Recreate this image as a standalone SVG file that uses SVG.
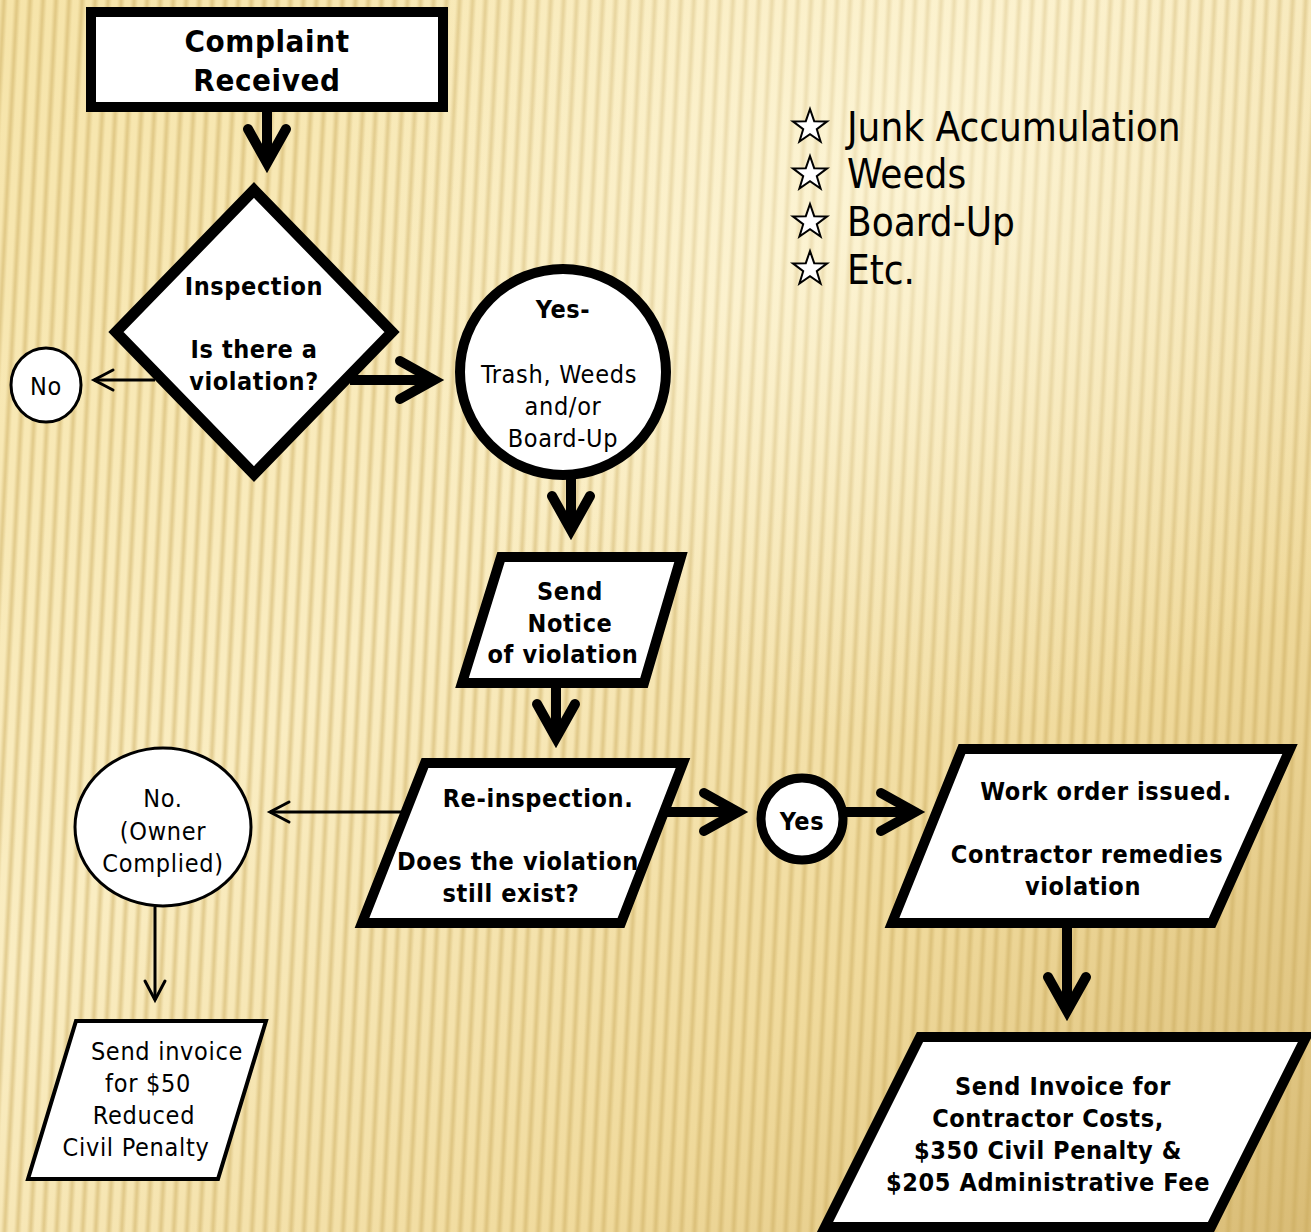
<svg xmlns="http://www.w3.org/2000/svg" width="1311" height="1232" viewBox="0 0 1311 1232">
<defs>
<style>
.box{fill:#fff;stroke:#000;stroke-linejoin:miter}
.thk{stroke-width:10}
.thn{stroke-width:3}
.t{font-family:'DejaVu Sans Condensed','DejaVu Sans',sans-serif;font-stretch:condensed;fill:#000;text-anchor:middle}
.b{font-weight:bold;font-size:25px;letter-spacing:0.6px}
.r{font-size:25px;letter-spacing:0.7px}
.lst{font-family:'DejaVu Sans Condensed','DejaVu Sans',sans-serif;font-stretch:condensed;font-size:40px;fill:#000}
.conT{fill:none;stroke:#000;stroke-width:10}
.conN{fill:none;stroke:#000;stroke-width:3}
.star{fill:#fff;stroke:#000;stroke-width:2;stroke-linejoin:miter}
</style>
<linearGradient id="bg" x1="0" y1="0" x2="1" y2="1">
<stop offset="0" stop-color="#f6e4a9"/>
<stop offset="0.4" stop-color="#faedc2"/>
<stop offset="0.72" stop-color="#f0da9c"/>
<stop offset="1" stop-color="#d9bc76"/>
</linearGradient>
<radialGradient id="glow" cx="0.7" cy="0.15" r="0.45">
<stop offset="0" stop-color="#fffbe6" stop-opacity="0.55"/>
<stop offset="1" stop-color="#fffbe6" stop-opacity="0"/>
</radialGradient>
<linearGradient id="stg" x1="0" y1="0" x2="1" y2="0">
<stop offset="0" stop-color="#c9a95a" stop-opacity="0"/>
<stop offset="0.5" stop-color="#c9a95a" stop-opacity="0.5"/>
<stop offset="1" stop-color="#c9a95a" stop-opacity="0"/>
</linearGradient>
<pattern id="stripes" width="13" height="40" patternUnits="userSpaceOnUse" patternTransform="rotate(3)">
<rect x="0" y="0" width="8" height="40" fill="url(#stg)"/>
</pattern>
<marker id="hT" markerUnits="userSpaceOnUse" orient="auto" refX="0" refY="0" overflow="visible">
<path d="M-34,-19 L0,0 L-34,19" fill="none" stroke="#000" stroke-width="10" stroke-linecap="round" stroke-linejoin="miter"/>
</marker>
<marker id="hN" markerUnits="userSpaceOnUse" orient="auto" refX="0" refY="0" overflow="visible">
<path d="M-19,-10 L0,0 L-19,10" fill="none" stroke="#000" stroke-width="3" stroke-linecap="round" stroke-linejoin="miter"/>
</marker>
<polygon id="st" class="star" points="0,-18 4.2,-5.8 17.1,-5.6 6.8,2.2 10.6,14.6 0,7.2 -10.6,14.6 -6.8,2.2 -17.1,-5.6 -4.2,-5.8"/>
</defs>

<rect width="1311" height="1232" fill="url(#bg)"/>
<rect width="1311" height="1232" fill="url(#stripes)"/>
<rect width="1311" height="1232" fill="url(#glow)"/>

<g id="connectors">
<path class="conT" d="M267,112 L267,163" marker-end="url(#hT)"/>
<path class="conT" d="M350,380 L434,380" marker-end="url(#hT)"/>
<path class="conT" d="M571,478 L571,530" marker-end="url(#hT)"/>
<path class="conT" d="M556,688 L556,738" marker-end="url(#hT)"/>
<path class="conT" d="M665,812 L738,812" marker-end="url(#hT)"/>
<path class="conT" d="M846,812 L915,812" marker-end="url(#hT)"/>
<path class="conT" d="M1067,928 L1067,1011" marker-end="url(#hT)"/>
<path class="conN" d="M155,380 L94,380" marker-end="url(#hN)"/>
<path class="conN" d="M405,812 L270,812" marker-end="url(#hN)"/>
<path class="conN" d="M155,907 L155,1000" marker-end="url(#hN)"/>
</g>

<g id="complaint">
<rect class="box thk" x="91" y="12" width="352" height="95"/>
<text class="t b" x="267" y="52" style="font-size:31px">Complaint</text>
<text class="t b" x="267" y="91" style="font-size:31px">Received</text>
</g>

<g id="inspection">
<polygon class="box" stroke-width="11" points="254,190 392,332 254,474 116,332"/>
<text class="t b" x="254" y="295">Inspection</text>
<text class="t b" x="254" y="358">Is there a</text>
<text class="t b" x="254" y="390">violation?</text>
</g>

<g id="no1">
<ellipse class="box thn" cx="46" cy="385" rx="35" ry="37"/>
<text class="t r" x="46" y="395">No</text>
</g>

<g id="yes1">
<circle class="box thk" cx="563" cy="372" r="103"/>
<text class="t b" x="563" y="318">Yes-</text>
<text class="t r" x="559" y="383">Trash, Weeds</text>
<text class="t r" x="563" y="415">and/or</text>
<text class="t r" x="563" y="447">Board-Up</text>
</g>

<g id="notice">
<polygon class="box thk" points="501,557 681,557 644,683 462,683"/>
<text class="t b" x="570" y="600">Send</text>
<text class="t b" x="570" y="632">Notice</text>
<text class="t b" x="563" y="663">of violation</text>
</g>

<g id="reinspection">
<polygon class="box thk" points="425,763 683,763 621,923 362,923"/>
<text class="t b" x="538" y="807">Re-inspection.</text>
<text class="t b" x="518" y="870">Does the violation</text>
<text class="t b" x="511" y="902">still exist?</text>
</g>

<g id="no2">
<ellipse class="box thn" cx="163" cy="827" rx="88" ry="79"/>
<text class="t r" x="163" y="807">No.</text>
<text class="t r" x="163" y="840">(Owner</text>
<text class="t r" x="163" y="872">Complied)</text>
</g>

<g id="invoice50">
<polygon class="box" stroke-width="4" points="76,1021 266,1021 218,1179 28,1179"/>
<text class="t r" x="167" y="1060">Send invoice</text>
<text class="t r" x="148" y="1092">for $50</text>
<text class="t r" x="144" y="1124">Reduced</text>
<text class="t r" x="136" y="1156">Civil Penalty</text>
</g>

<g id="yes2">
<circle class="box" stroke-width="9" cx="802" cy="819" r="41"/>
<text class="t b" x="802" y="830">Yes</text>
</g>

<g id="workorder">
<polygon class="box thk" points="962,749 1290,749 1212,923 892,923"/>
<text class="t b" x="1106" y="800">Work order issued.</text>
<text class="t b" x="1087" y="863">Contractor remedies</text>
<text class="t b" x="1083" y="895">violation</text>
</g>

<g id="finalinvoice">
<polygon class="box thk" points="920,1037 1306,1037 1211,1227 825,1227"/>
<text class="t b" x="1063" y="1095">Send Invoice for</text>
<text class="t b" x="1048" y="1127">Contractor Costs,</text>
<text class="t b" x="1048" y="1159">$350 Civil Penalty &amp;</text>
<text class="t b" x="1048" y="1191">$205 Administrative Fee</text>
</g>

<g id="list">
<use href="#st" x="810" y="127"/>
<use href="#st" x="810" y="174"/>
<use href="#st" x="810" y="222"/>
<use href="#st" x="810" y="269"/>
<text class="lst" x="847" y="141">Junk Accumulation</text>
<text class="lst" x="847" y="188">Weeds</text>
<text class="lst" x="847" y="236">Board-Up</text>
<text class="lst" x="847" y="284">Etc.</text>
</g>
</svg>
